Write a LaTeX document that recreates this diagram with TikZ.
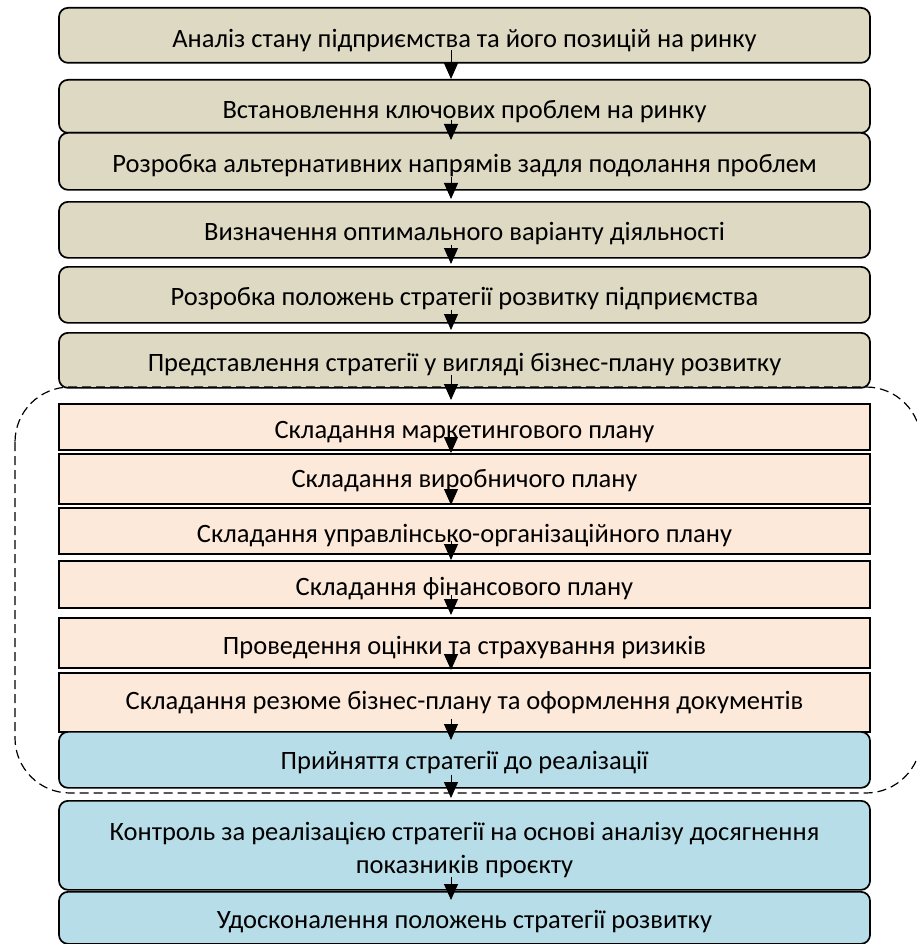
\documentclass[tikz,border=0pt]{standalone}
\usepackage{fontspec}
\setmainfont{Carlito}
\usetikzlibrary{arrows.meta}
\definecolor{tanfill}{HTML}{DDD9C3}
\definecolor{peachfill}{HTML}{FDE9D9}
\definecolor{bluefill}{HTML}{B7DDE8}
\tikzset{
  box/.style={draw, line width=1.7pt, minimum width=811pt, inner sep=0pt, anchor=north},
  rbox/.style={box, rounded corners=9pt},
  tanbox/.style={rbox, fill=tanfill},
  peachbox/.style={box, fill=peachfill},
  bluebox/.style={rbox, fill=bluefill},
  lbl/.style={font=\fontsize{26.5}{33}\selectfont, inner sep=0pt, anchor=base, align=center},
  arr/.style={-{Triangle[width=14pt,length=16pt]}, line width=1pt},
  frame/.style={dash pattern=on 9pt off 5pt, line width=1.2pt, rounded corners=55pt},
}
\newcommand{\bx}[7]{% style, name, top, height, baseline offset, text-name, text
  \node[#1, minimum height=#4pt, path picture={\node[lbl] (#6) at ([yshift=-#5pt]path picture bounding box.north) {#7};}] (#2) at (464.5,#3) {};}
\begin{document}
\begin{tikzpicture}[x=1pt,y=-1pt]
\useasboundingbox (0,0) rectangle (916,944);
\bx{tanbox}{b1}{7}{55}{40}{t1}{Аналіз стану підприємства та його позицій на ринку}
\bx{tanbox}{b2}{79}{53}{39}{t2}{Встановлення ключових проблем на ринку}
\bx{tanbox}{b3}{132}{57}{40}{t3}{Розробка альтернативних напрямів задля подолання проблем}
\bx{tanbox}{b4}{201}{56}{39}{t4}{Визначення оптимального варіанту діяльності}
\bx{tanbox}{b5}{266}{56}{39}{t5}{Розробка положень стратегії розвитку підприємства}
\bx{tanbox}{b6}{332}{55}{39}{t6}{Представлення стратегії у вигляді бізнес-плану розвитку}
\bx{peachbox}{b7}{403}{46}{35}{t7}{Складання маркетингового плану}
\bx{peachbox}{b8}{453}{50}{34}{t8}{Складання виробничого плану}
\bx{peachbox}{b9}{507}{46}{35}{t9}{Складання управлінсько-організаційного плану}
\bx{peachbox}{b10}{560}{47}{35}{t10}{Складання фінансового плану}
\bx{peachbox}{b11}{617}{50}{37}{t11}{Проведення оцінки та страхування ризиків}
\bx{peachbox}{b12}{672}{59}{37}{t12}{Складання резюме бізнес-плану та оформлення документів}
\bx{bluebox}{b13}{731}{56}{38}{t13}{Прийняття стратегії до реалізації}
\bx{bluebox}{b14}{800}{89}{73}{t14}{Контроль за реалізацією стратегії на основі аналізу досягнення\\показників проєкту}
\bx{bluebox}{b15}{891}{52}{37}{t15}{Удосконалення положень стратегії розвитку}
\draw[frame] (15,387) rectangle (921,793);
\draw[arr] ([xshift=-13.5pt,yshift=14pt]b1.south) -- ([xshift=-13.5pt]b2.north);
\draw[arr] ([xshift=-13.5pt,yshift=14pt]b2.south) -- ([xshift=-13.5pt,yshift=-8pt]b3.north);
\draw[arr] ([xshift=-13.5pt,yshift=14pt]b3.south) -- ([xshift=-13.5pt,yshift=2pt]b4.north);
\draw[arr] ([xshift=-13.5pt,yshift=14pt]b4.south) -- ([xshift=-13.5pt,yshift=2pt]b5.north);
\draw[arr] ([xshift=-13.5pt,yshift=14pt]b5.south) -- ([xshift=-13.5pt,yshift=2pt]b6.north);
\draw[arr] ([xshift=-13.5pt,yshift=14pt]b6.south) -- ([xshift=-13.5pt,yshift=3pt]b7.north);
\draw[arr] ([xshift=-13.5pt,yshift=14pt]b7.south) -- ([xshift=-13.5pt]b8.north);
\draw[arr] ([xshift=-13.5pt,yshift=14pt]b8.south) -- ([xshift=-13.5pt,yshift=2pt]b9.north);
\draw[arr] ([xshift=-13.5pt,yshift=14pt]b9.south) -- ([xshift=-13.5pt]b10.north);
\draw[arr] ([xshift=-13.5pt,yshift=14pt]b10.south) -- ([xshift=-13.5pt,yshift=2pt]b11.north);
\draw[arr] ([xshift=-13.5pt,yshift=14pt]b11.south) -- ([xshift=-13.5pt,yshift=2pt]b12.north);
\draw[arr] ([xshift=-13.5pt,yshift=14pt]b12.south) -- ([xshift=-13.5pt,yshift=-9pt]b13.north);
\draw[arr] ([xshift=-13.5pt,yshift=14pt]b13.south) -- ([xshift=-13.5pt,yshift=2pt]b14.north);
\draw[arr] ([xshift=-13.5pt,yshift=14pt]b14.south) -- ([xshift=-13.5pt,yshift=-9pt]b15.north);
\end{tikzpicture}
\end{document}
